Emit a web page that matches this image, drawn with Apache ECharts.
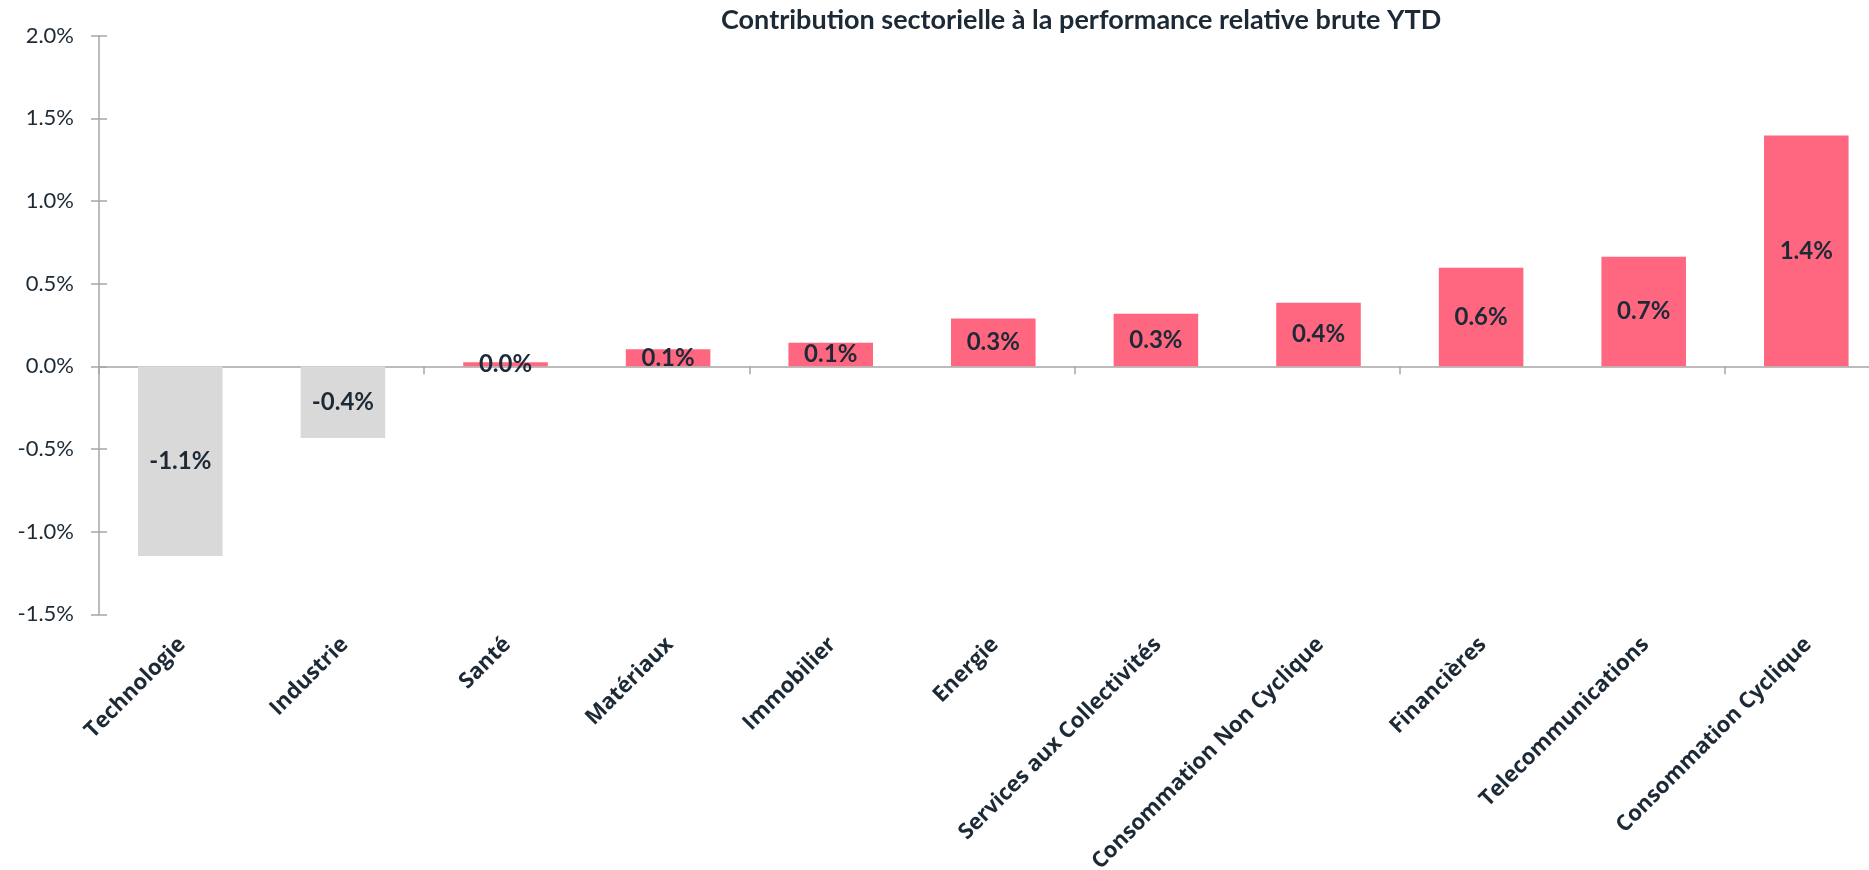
<!DOCTYPE html>
<html>
<head>
<meta charset="utf-8">
<script src="https://cdn.jsdelivr.net/npm/echarts@6/dist/echarts.min.js"></script>
<style>
html,body{margin:0;padding:0;background:#fff;overflow:hidden;}
#chart{width:1869px;height:870px;}
</style>
</head>
<body>
<div id="chart"></div>
<script>
const titleText = 'Contribution sectorielle à la performance relative brute YTD';
const categories = ['Technologie','Industrie','Santé','Matériaux','Immobilier','Energie','Services aux Collectivités','Consommation Non Cyclique','Financières','Telecommunications','Consommation Cyclique'];
const values = [-1.148, -0.434, 0.024, 0.103, 0.143, 0.290, 0.318, 0.385, 0.597, 0.663, 1.397];
const yMin = -1.5, yMax = 2.0, yStep = 0.5;

const W = 1869;
const gridLeft = 99, gridRight = -18.6, gridTop = 35.7, gridBottom = 255.7;
const gridWidth = W - gridLeft - gridRight;
const labelShift = -6;
const dark = '#1d2a36';
const axisGrey = '#a6a6a6';

const chart = echarts.init(document.getElementById('chart'), null, {renderer:'canvas'});
chart.setOption({
  backgroundColor:'#ffffff',
  animation:false,
  title:{
    text:titleText, left:716, top:2,
    textStyle:{fontFamily:'Lato', fontWeight:'bold', fontSize:27, color:dark}
  },
  grid:[
    {left:gridLeft, width:gridWidth, top:gridTop, bottom:gridBottom, containLabel:false, outerBoundsMode:'none'},
    {left:gridLeft+labelShift, width:gridWidth, top:gridTop, bottom:gridBottom, containLabel:false, outerBoundsMode:'none'}
  ],
  xAxis:[
    {type:'category', gridIndex:0, data:categories, position:'bottom',
     axisLine:{show:true, onZero:true, lineStyle:{color:axisGrey, width:1.5}},
     axisTick:{show:true, length:8, lineStyle:{color:axisGrey, width:1.5}},
     axisLabel:{show:false}},
    {type:'category', gridIndex:1, data:categories, position:'bottom',
     axisLine:{show:false, onZero:false}, axisTick:{show:false},
     axisLabel:{rotate:45, margin:19, interval:0, verticalAlign:'top', align:'right',
       fontFamily:'Open Sans', fontWeight:'bold', fontSize:22, color:dark}}
  ],
  yAxis:[
    {type:'value', gridIndex:0, min:yMin, max:yMax, interval:yStep, position:'left',
     axisLine:{show:true, onZero:false, lineStyle:{color:axisGrey, width:1.5}},
     axisTick:{show:true, length:8, lineStyle:{color:axisGrey, width:1.5}},
     splitLine:{show:false},
     axisLabel:{margin:25, fontFamily:'Lato', fontSize:22, color:dark,
       formatter:v=>v.toFixed(1)+'%'}},
    {type:'value', gridIndex:0, min:yMin, max:yMax, interval:yStep, position:'right', offset:-gridWidth,
     axisLine:{show:false, onZero:false}, axisTick:{show:true, length:8, lineStyle:{color:axisGrey, width:1.5}},
     splitLine:{show:false}, axisLabel:{show:false}},
    {type:'value', gridIndex:1, min:yMin, max:yMax, show:false}
  ],
  series:[{
    type:'bar', xAxisIndex:0, yAxisIndex:0, barWidth:'52%',
    data:values.map(v=>({value:v, itemStyle:{color: v<0 ? '#d9d9d9' : '#ff6680'}})),
    label:{show:true, position:'inside', fontFamily:'Lato', fontWeight:'bold', fontSize:24, color:dark,
      formatter:p=>p.value.toFixed(1)+'%'}
  }]
});
</script>
</body>
</html>
